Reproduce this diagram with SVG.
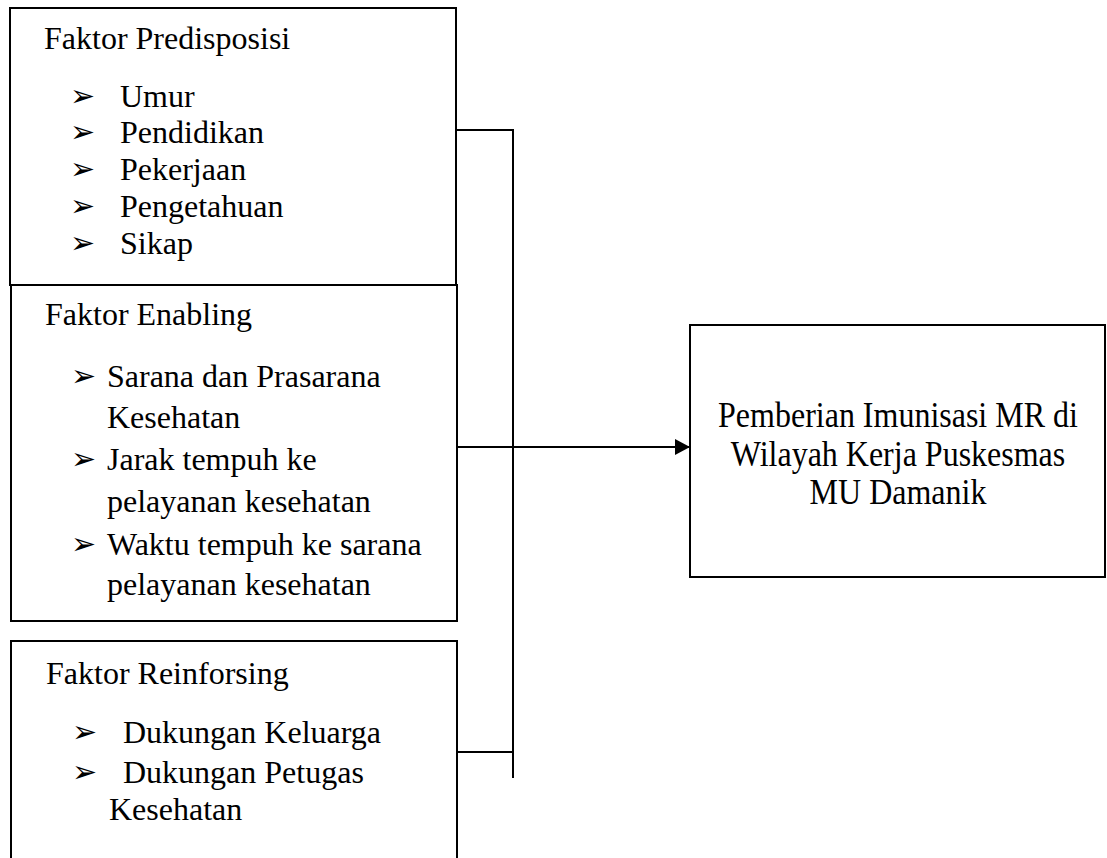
<svg xmlns="http://www.w3.org/2000/svg" width="1107" height="858" viewBox="0 0 1107 858">
<style>
.box{fill:none;stroke:#000;stroke-width:2}
.ln{fill:none;stroke:#000;stroke-width:2}
.t{font-family:"Liberation Serif","Times New Roman",serif;font-size:32px;fill:#000}
.b{font-family:"DejaVu Sans",sans-serif;font-size:30px;fill:#000}
</style>
<defs>
<marker id="arr" markerWidth="16" markerHeight="16" refX="15" refY="8" orient="auto" markerUnits="userSpaceOnUse">
<path d="M0,0 L15,8 L0,16 Z" fill="#000"/>
</marker>
</defs>
<rect width="1107" height="858" fill="#fff"/>
<g id="predisposisi">
<rect class="box" x="10" y="8" width="446" height="277"/>
<text class="t" x="44" y="49">Faktor Predisposisi</text>
<text class="b" x="70" y="106">➢</text><text class="t" x="120" y="107">Umur</text>
<text class="b" x="70" y="142">➢</text><text class="t" x="120" y="143">Pendidikan</text>
<text class="b" x="70" y="179">➢</text><text class="t" x="120" y="180">Pekerjaan</text>
<text class="b" x="70" y="216">➢</text><text class="t" x="120" y="217">Pengetahuan</text>
<text class="b" x="70" y="253">➢</text><text class="t" x="120" y="254">Sikap</text>
</g>
<g id="enabling">
<rect class="box" x="11" y="285" width="446" height="336"/>
<text class="t" x="45" y="325">Faktor Enabling</text>
<text class="b" x="71" y="386">➢</text><text class="t" x="107" y="387">Sarana dan Prasarana</text>
<text class="t" x="107" y="428">Kesehatan</text>
<text class="b" x="71" y="469">➢</text><text class="t" x="107" y="470">Jarak tempuh ke</text>
<text class="t" x="107" y="512">pelayanan kesehatan</text>
<text class="b" x="71" y="554">➢</text><text class="t" x="107" y="555">Waktu tempuh ke sarana</text>
<text class="t" x="107" y="595">pelayanan kesehatan</text>
</g>
<g id="reinforsing">
<path class="box" d="M11,858 L11,641 L457,641 L457,858"/>
<text class="t" x="46" y="684">Faktor Reinforsing</text>
<text class="b" x="72" y="742">➢</text><text class="t" x="123" y="743">Dukungan Keluarga</text>
<text class="b" x="72" y="782">➢</text><text class="t" x="123" y="783">Dukungan Petugas</text>
<text class="t" x="109" y="820">Kesehatan</text>
</g>
<g id="hasil">
<rect class="box" x="690" y="325" width="415" height="252"/>
<text class="t" text-anchor="middle" transform="translate(898,427) scale(1,1.1)">Pemberian Imunisasi MR di</text>
<text class="t" text-anchor="middle" transform="translate(898,466) scale(1,1.1)">Wilayah Kerja Puskesmas</text>
<text class="t" text-anchor="middle" transform="translate(898,504) scale(1,1.1)">MU Damanik</text>
</g>
<g id="connectors">
<path class="ln" d="M456,130 L514,130"/>
<path class="ln" d="M513,129 L513,778"/>
<path class="ln" d="M457,752 L513,752"/>
<path class="ln" d="M457,447 L690,447" marker-end="url(#arr)"/>
</g>
</svg>
